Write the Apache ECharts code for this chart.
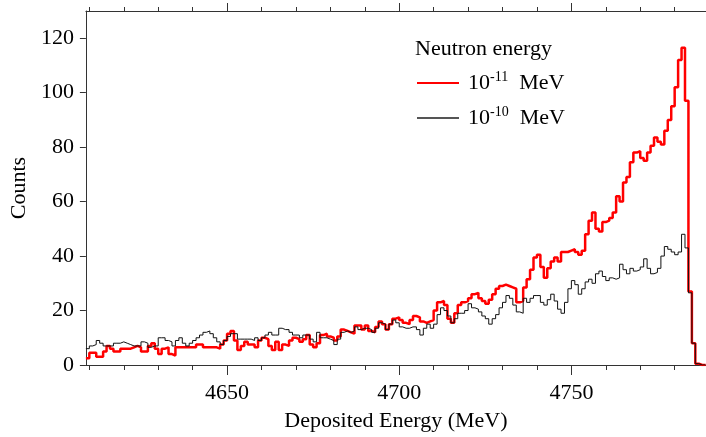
<!DOCTYPE html>
<html>
<head>
<meta charset="utf-8">
<script src="https://cdn.jsdelivr.net/npm/echarts@6/dist/echarts.min.js"></script>
<style>
  html, body { margin: 0; padding: 0; background: #fff; }
  #chart { width: 706px; height: 437px; }
</style>
</head>
<body>
<div id="chart"></div>
<script>
// Histogram binning (MeV): first bin's lower edge and bin width
const binStart = 4609;
const binWidth = 1;

// Counts per bin, neutron energy 1e-11 MeV (4609 ... 4788 MeV)
const countsE11 = [
  2.5, 4.5, 4.5, 3, 3, 5, 7, 6, 5, 5,
  6, 6, 6, 6.5, 7, 6.5, 5, 5, 7, 8,
  6, 4, 6, 6.5, 4, 3.5, 6.5, 6.5, 6.5, 6.5,
  6.5, 6.5, 7.5, 7.5, 6.5, 6.5, 6.5, 6.5, 6, 7.5,
  9, 11.5, 12.5, 9, 5.5, 7, 8.5, 7.5, 7.5, 6.5,
  9, 10, 9.5, 7, 5.5, 8.5, 5.5, 7.5, 7, 9,
  10, 9.5, 8.5, 9.5, 11, 7.5, 6.5, 8, 11, 11.5,
  10.5, 10, 9, 10.5, 13, 12.5, 12, 11.5, 14.5, 14.5,
  13, 14.5, 12.5, 12, 14, 16, 15, 13, 15, 17,
  17.5, 16.5, 15.5, 15, 16.5, 18, 17.5, 16, 15.5, 16,
  16.5, 20, 23, 23.5, 22, 17, 15.5, 19, 22, 23,
  23.5, 24.5, 26, 26.5, 24.5, 23.5, 22.5, 24, 26, 28,
  29, 29.5, 29, 28.5, 28, 23, 23.5, 28.5, 31.5, 35,
  39.5, 40.5, 36, 32, 35.5, 38, 39.5, 38, 41.5, 41.5,
  42, 42.5, 41.5, 40.5, 42, 48, 53, 56, 50, 49,
  52.5, 53, 54, 56, 62, 60, 67, 69, 74.5, 78,
  78.5, 76, 75, 78, 80.5, 83.5, 82, 81, 86, 90,
  95, 102, 112, 116.5, 97, 27, 8, 0.5, 0, 0
];

// Counts per bin, neutron energy 1e-10 MeV (4609 ... 4788 MeV)
const countsE10 = [
  6, 7, 7.5, 9, 8, 7, 7, 7, 8, 8,
  8.5, 8, 7.5, 7, 7, 7, 8.5, 8, 6.5, 7,
  7, 10, 10, 9, 8.5, 7, 9, 10, 8, 7,
  8, 9, 10, 11, 12, 12.5, 11.5, 10, 8.5, 7.5,
  9, 10.5, 11.5, 11.5, 9.5, 9.5, 9.5, 9.5, 9, 10,
  9, 10, 11, 12, 11, 11, 13.5, 13, 13, 12,
  11, 11, 10, 11, 11, 9.5, 8.5, 12, 10, 10,
  9.5, 9, 7.5, 9.5, 12, 12.5, 12, 12.5, 14, 13,
  13.5, 13.5, 13, 12, 13.5, 15.5, 15, 13, 15, 16.5,
  15.5, 14, 13.5, 13.5, 14, 14, 13, 11, 13.5, 15,
  13.5, 15, 18.5, 21, 20, 18, 15.5, 17, 19, 19,
  20, 22.5, 21, 20.5, 19.5, 18, 17, 15, 17, 18.5,
  21, 23, 25.5, 24.5, 22, 19.5, 19, 24.5, 23, 24.5,
  25.5, 25.5, 23, 22, 24, 26, 23.5, 20.5, 19, 23,
  28, 31, 29.5, 26, 28, 30.5, 31.5, 30, 33.5, 34.5,
  32.5, 31, 32, 31.5, 32, 37, 35, 33.5, 35.5, 34.5,
  35, 36, 39, 35.5, 33.5, 34, 35.5, 40, 43.5, 42.5,
  41.5, 40.5, 41.5, 48, 43, 26.5, 8, 0.5, 0, 0
];

// Axis ticks and labels
const xMajorTicks = [4650, 4700, 4750];
const xMinorTicks = [4610, 4620, 4630, 4640, 4660, 4670, 4680, 4690,
                     4710, 4720, 4730, 4740, 4760, 4770, 4780];
const yTicks = [0, 20, 40, 60, 80, 100, 120];

const xRange = [4609, 4789.1];
const yRange = [0, 130];

const seriesNames = ['E-11', 'E-10'];
const seriesColors = ['#ff0000', '#111111'];
const legendLabels = {
  'E-11': '{f|10}{s|-11}{b|  MeV}',
  'E-10': '{f|10}{s|-10}{b|  MeV}'
};

const serif = '"Liberation Serif", "Times New Roman", serif';
const axisColor = '#333';

// Convert bin contents to step-line vertices at bin edges
function toEdges(values) {
  const pts = values.map((v, i) => [binStart + i * binWidth, v]);
  pts.push([binStart + values.length * binWidth, values[values.length - 1]]);
  return pts;
}

function xAxisLayer(position, ticks, tickLen, withLine, withLabels) {
  return {
    type: 'value',
    position: position,
    min: xRange[0],
    max: xRange[1],
    axisLine: { show: withLine, onZero: false, lineStyle: { color: axisColor, width: 1 } },
    axisTick: { show: true, customValues: ticks, length: tickLen, inside: false,
                lineStyle: { color: axisColor, width: 1 } },
    axisLabel: withLabels
      ? { show: true, customValues: ticks, margin: 17, color: '#000',
          fontFamily: serif, fontSize: 22, formatter: v => String(v) }
      : { show: false },
    splitLine: { show: false }
  };
}

const chart = echarts.init(document.getElementById('chart'), null, { renderer: 'canvas' });

const bottomMajor = xAxisLayer('bottom', xMajorTicks, 10, true, true);
bottomMajor.name = 'Deposited Energy (MeV)';
bottomMajor.nameLocation = 'middle';
bottomMajor.nameGap = 45;
bottomMajor.nameTextStyle = { fontFamily: serif, fontSize: 22, color: '#000' };

chart.setOption({
  animation: false,
  backgroundColor: '#fff',
  grid: { left: 83, right: 0, top: 11, bottom: 71, containLabel: false },
  title: {
    text: 'Neutron energy',
    left: 415,
    top: 38,
    padding: 0,
    textStyle: { fontFamily: serif, fontSize: 22, fontWeight: 'normal', color: '#000' }
  },
  legend: {
    orient: 'vertical',
    left: 417,
    top: 70,
    padding: 0,
    itemWidth: 42,
    itemHeight: 2,
    itemGap: 7,
    data: seriesNames.map((n, i) => ({
      name: n,
      icon: 'rect',
      itemStyle: { color: i === 0 ? seriesColors[0] : '#555' }
    })),
    formatter: name => legendLabels[name],
    textStyle: {
      color: '#000',
      rich: {
        f: { fontFamily: serif, fontSize: 22, color: '#000', lineHeight: 26, padding: [0, 0, 0, 4] },
        b: { fontFamily: serif, fontSize: 22, color: '#000', lineHeight: 26 },
        s: { fontFamily: serif, fontSize: 14, color: '#000', lineHeight: 26, verticalAlign: 'top', padding: [0, 0, 14, 0] }
      }
    }
  },
  xAxis: [
    bottomMajor,
    xAxisLayer('bottom', xMinorTicks, 5, false, false),
    xAxisLayer('top', xMajorTicks, 8, true, false),
    xAxisLayer('top', xMinorTicks, 4, false, false)
  ],
  yAxis: {
    type: 'value',
    min: yRange[0],
    max: yRange[1],
    axisLine: { show: true, onZero: false, lineStyle: { color: axisColor, width: 1 } },
    axisTick: { show: true, customValues: yTicks, length: 6, lineStyle: { color: axisColor, width: 1 } },
    axisLabel: { customValues: yTicks, margin: 12, color: '#000', fontFamily: serif, fontSize: 22 },
    splitLine: { show: false },
    name: 'Counts',
    nameLocation: 'middle',
    nameGap: 50,
    nameTextStyle: { fontFamily: serif, fontSize: 22, color: '#000' }
  },
  series: [
    {
      name: seriesNames[0],
      type: 'line',
      step: 'end',
      xAxisIndex: 0,
      data: toEdges(countsE11),
      symbol: 'none',
      lineStyle: { color: seriesColors[0], width: 2.5 },
      itemStyle: { color: seriesColors[0] },
      clip: true,
      z: 2
    },
    {
      name: seriesNames[1],
      type: 'line',
      step: 'end',
      xAxisIndex: 0,
      data: toEdges(countsE10),
      symbol: 'none',
      lineStyle: { color: seriesColors[1], width: 1 },
      itemStyle: { color: seriesColors[1] },
      clip: true,
      z: 3
    }
  ]
});
</script>
</body>
</html>
